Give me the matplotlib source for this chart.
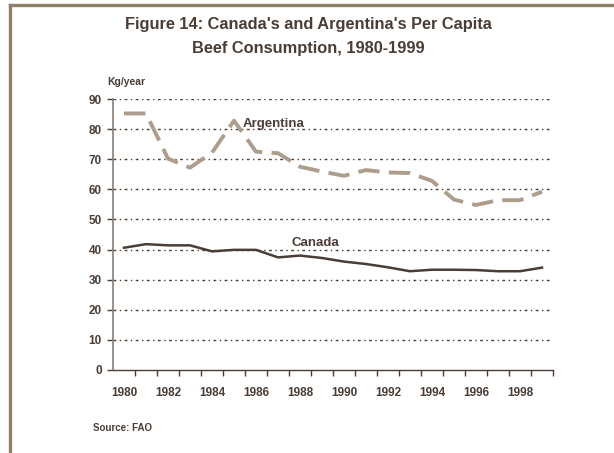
import matplotlib.pyplot as plt
from matplotlib.lines import Line2D

plt.rcParams['font.family'] = ['Liberation Sans', 'DejaVu Sans']
plt.rcParams['font.weight'] = 'bold'

years = list(range(1980, 2000))
argentina = [85.2, 85.2, 70.2, 67.2, 72.2, 82.8, 72.5, 72.0, 67.5, 65.9,
             64.5, 66.4, 65.6, 65.4, 62.8, 56.6, 54.8, 56.4, 56.4, 59.2]
canada = [40.6, 41.8, 41.4, 41.4, 39.4, 39.9, 39.9, 37.4, 38.0, 37.2,
          36.0, 35.2, 34.1, 32.8, 33.3, 33.3, 33.2, 32.8, 32.8, 34.0]
year_labels = [str(y) for y in range(1980, 2000, 2)]
y_ticks = list(range(0, 100, 10))

txt = '#4a3d35'
frame_col = '#8f7e6c'

fig = plt.figure(figsize=(6.14, 4.53), dpi=100)
ax = fig.add_axes([113/614, 1-370/453, 440/614, 271/453])

for v in y_ticks[1:]:
    ax.axhline(v, color=txt, linewidth=1.0, linestyle=(0, (2, 2.5, 1, 2.5)), zorder=1)

ax.plot(years, argentina, color='#ad9d8d', linewidth=2.8,
        linestyle=(0, (5.5, 2.4)), zorder=3)
ax.plot(years, canada, color=txt, linewidth=1.8, zorder=3)

ax.text(1985.4, 81.7, 'Argentina', color=txt, fontsize=9.5, fontweight='bold',
        ha='left', va='center')
ax.text(1988.7, 42.3, 'Canada', color=txt, fontsize=9.5, fontweight='bold',
        ha='center', va='center')

ax.set_xlim(1979.5, 1999.5)
ax.set_ylim(0, 90)
ax.set_yticks(y_ticks)
ax.set_xticks([y + 0.5 for y in years])
ax.set_xticklabels([])
ax.set_xticks(list(range(1980, 2000, 2)), minor=True)
ax.set_xticklabels(year_labels, minor=True)
ax.tick_params(axis='x', which='major', length=4, width=1, color=txt, direction='out')
ax.tick_params(axis='x', which='minor', length=0, pad=12, labelsize=8.5, labelcolor=txt)
ax.tick_params(axis='y', length=4, width=1, color=txt, direction='out',
               labelsize=8.5, labelcolor=txt, pad=4)
for lab in ax.get_xticklabels(minor=True) + ax.get_yticklabels():
    lab.set_fontweight('bold')

for s in ['top', 'right']:
    ax.spines[s].set_visible(False)
ax.spines['left'].set_color('#8a7f76')
ax.spines['bottom'].set_color(txt)
ax.spines['left'].set_linewidth(1.2)
ax.spines['bottom'].set_linewidth(1.0)

fig.text(308/614, 1-25/453, "Figure 14: Canada's and Argentina's Per Capita",
         ha='center', va='center', fontsize=11.8, fontweight='bold', color=txt)
fig.text(308/614, 1-48/453, 'Beef Consumption, 1980-1999',
         ha='center', va='center', fontsize=11.8, fontweight='bold', color=txt)
fig.text(107/614, 1-82/453, 'Kg/year', ha='left', va='center',
         fontsize=7.5, fontweight='bold', color=txt)
fig.text(93/614, 1-428/453, 'Source: FAO', ha='left', va='center',
         fontsize=7, fontweight='bold', color=txt)

fig.add_artist(Line2D([10/614, 1], [1-5/453, 1-5/453], color=frame_col,
                      linewidth=2.4, transform=fig.transFigure))
fig.add_artist(Line2D([10/614, 10/614], [0, 1-5/453], color=frame_col,
                      linewidth=2.4, transform=fig.transFigure))

fig.savefig('out.png', dpi=100)
